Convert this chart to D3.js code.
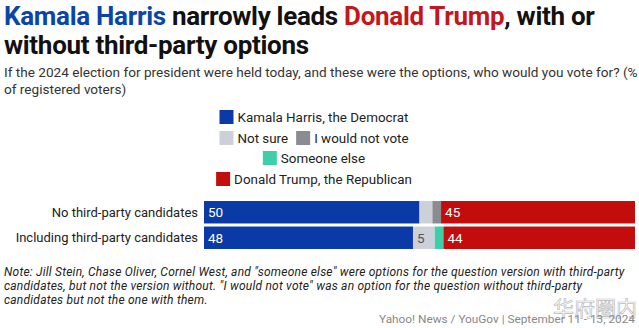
<!DOCTYPE html>
<html>
<head>
<meta charset="utf-8">
<script src="https://cdn.jsdelivr.net/npm/d3@7"></script>
<style>
  body { margin: 0; background: #fff; }
  text { font-family: Roboto, "Noto Sans", sans-serif; }
</style>
</head>
<body>
<div id="chart"></div>
<script>
const w = 639;
const h = 328;

// Données
const categories = ["No third-party candidates", "Including third-party candidates"];
const seriesNames = ["Kamala Harris, the Democrat", "Not sure", "I would not vote", "Someone else", "Donald Trump, the Republican"];
const harris = [50, 48];
const notSure = [3, 5];
const wouldNotVote = [2, 0];
const someoneElse = [0, 2];
const trump = [45, 44];
const shownLabels = [[true, false, false, false, true], [true, true, false, false, true]];

const colors = ["#0a3aa5", "#cdd0d8", "#8a8c92", "#3ecfa9", "#c30c0c"];
const labelColors = ["#fff", "#555", "#fff", "#fff", "#fff"];

const svg = d3.select("#chart").append("svg")
  .attr("width", w)
  .attr("height", h);

// Titre
const title = svg.append("text").attr("x", 4).attr("y", 25)
  .style("font-size", "26px").style("font-weight", 700).style("letter-spacing", "-0.3px");
title.append("tspan").attr("fill", "#0a45a8").text("Kamala Harris");
title.append("tspan").attr("fill", "#111").text(" narrowly leads ");
title.append("tspan").attr("fill", "#c4161c").text("Donald Trump");
title.append("tspan").attr("fill", "#111").text(", with or");
svg.append("text").attr("x", 4).attr("y", 54)
  .style("font-size", "26px").style("font-weight", 700).style("letter-spacing", "-0.3px")
  .attr("fill", "#111").text("without third-party options");

// Sous-titre
const subtitle = ["If the 2024 election for president were held today, and these were the options, who would you vote for? (%", "of registered voters)"];
svg.selectAll(".sub").data(subtitle).join("text")
  .attr("class", "sub")
  .attr("x", 4).attr("y", (d, i) => 77 + i * 17)
  .style("font-size", "13.6px").attr("fill", "#333")
  .text(d => d);

// Légende
const legendRows = [[0], [1, 2], [3], [4]];
const legendY = [122, 143, 163, 184];
const sw = 14;
legendRows.forEach((row, ri) => {
  const g = svg.append("g");
  let x = 0;
  row.forEach(si => {
    g.append("rect").attr("x", x).attr("y", -sw + 2).attr("width", sw).attr("height", sw).attr("fill", colors[si]);
    const t = g.append("text").attr("x", x + sw + 4).attr("y", 0)
      .style("font-size", "13.4px").attr("fill", "#222").text(seriesNames[si]);
    x += sw + 4 + t.node().getComputedTextLength() + 8;
  });
  x -= 8;
  g.attr("transform", `translate(${314 - x / 2},${legendY[ri]})`);
});

// Barres
const x0 = 204, x1 = 635;
const y = d3.scaleBand().domain(categories).range([200, 250]).paddingInner(0.12).paddingOuter(0.04);

const rows = categories.map((c, i) => {
  const vals = [harris[i], notSure[i], wouldNotVote[i], someoneElse[i], trump[i]];
  const total = d3.sum(vals);
  const x = d3.scaleLinear().domain([0, total]).range([x0, x1]);
  let acc = 0;
  return vals.map((v, si) => {
    const s = { cat: c, si, v, a: acc, b: acc + v, x, show: shownLabels[i][si] };
    acc += v;
    return s;
  });
});

const barG = svg.append("g");
rows.forEach(segs => {
  barG.selectAll(null).data(segs.filter(d => d.v > 0)).join("rect")
    .attr("x", d => d.x(d.a))
    .attr("y", d => y(d.cat))
    .attr("width", d => d.x(d.b) - d.x(d.a))
    .attr("height", y.bandwidth())
    .attr("fill", d => colors[d.si]);
  barG.selectAll(null).data(segs.filter(d => d.show)).join("text")
    .attr("x", d => d.x(d.a) + 4)
    .attr("y", d => y(d.cat) + y.bandwidth() / 2 + 5)
    .style("font-size", "13.5px")
    .attr("fill", d => labelColors[d.si])
    .text(d => d.v);
});

// Étiquettes des catégories
svg.selectAll(".cat").data(categories).join("text")
  .attr("class", "cat")
  .attr("x", 198)
  .attr("y", d => y(d) + y.bandwidth() / 2 + 4.5)
  .attr("text-anchor", "end")
  .style("font-size", "13px").attr("fill", "#222")
  .text(d => d);

// Note
const note = [
  "Note: Jill Stein, Chase Oliver, Cornel West, and \"someone else\" were options for the question version with third-party",
  "candidates, but not the version without. \"I would not vote\" was an option for the question without third-party",
  "candidates but not the one with them."
];
svg.selectAll(".note").data(note).join("text")
  .attr("class", "note")
  .attr("x", 4).attr("y", (d, i) => 276 + i * 14)
  .style("font-size", "12px").style("font-style", "italic").style("letter-spacing", "0.22px")
  .attr("fill", "#222")
  .text(d => d);

// Filigrane
svg.append("text").attr("x", 637).attr("y", 316).attr("text-anchor", "end")
  .style("font-family", "'Noto Sans CJK SC'").style("font-size", "21px")
  .attr("fill", "none").attr("stroke", "#bbb").attr("stroke-width", 0.7)
  .text("华府圈内");

// Source
svg.append("text").attr("x", 635).attr("y", 323).attr("text-anchor", "end")
  .style("font-size", "11.8px").attr("fill", "#888")
  .text("Yahoo! News / YouGov | September 11 - 13, 2024");
</script>
</body>
</html>
